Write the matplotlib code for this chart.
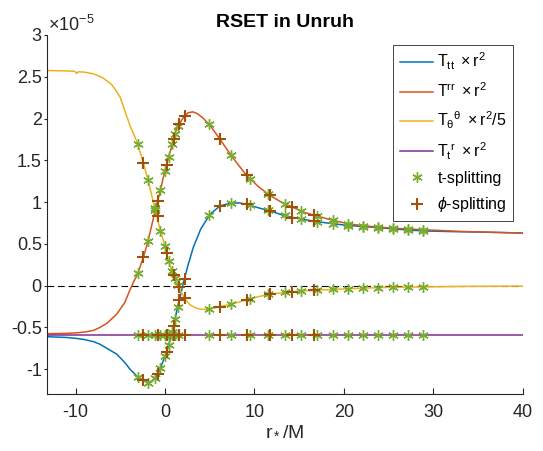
import numpy as np
import matplotlib.pyplot as plt
from matplotlib.ticker import FormatStrFormatter

plt.rcParams['font.family'] = ['Liberation Sans', 'DejaVu Sans']
plt.rcParams['mathtext.fontset'] = 'custom'
plt.rcParams['mathtext.rm'] = 'Liberation Sans'
plt.rcParams['mathtext.it'] = 'Liberation Sans:italic'
plt.rcParams['mathtext.bf'] = 'Liberation Sans:bold'
plt.rcParams['axes.unicode_minus'] = False

# Curves (values in units of 1e-5)
x_tt = [-13.24, -11, -10, -9, -8, -7.3, -6.5, -5.4, -4.5, -3.92, -3.17, -2.43, -1.94,
        -1.5, -1.2, -0.94, -0.57, 0.07, 0.36, 0.93, 1.11, 1.3, 1.56, 1.78, 2.04, 2.5,
        3.16, 4.0, 5.03, 6.15, 7.45, 8.3, 9.1, 10.5, 11.74, 13, 14.35, 16.77, 18.5,
        20.5, 23.85, 26, 28.9, 33, 36, 40]
T_tt = [-0.61, -0.62, -0.63, -0.645, -0.67, -0.70, -0.75, -0.82, -0.92, -1.0, -1.08,
        -1.13, -1.16, -1.145, -1.11, -1.08, -1.0, -0.82, -0.73, -0.50, -0.41, -0.30,
        -0.19, -0.09, 0.03, 0.22, 0.46, 0.68, 0.855, 0.955, 0.99, 0.99, 0.975, 0.93,
        0.895, 0.85, 0.815, 0.77, 0.745, 0.72, 0.695, 0.675, 0.655, 0.645, 0.64, 0.63]

x_rr = [-13.24, -11, -10, -9, -8, -7.3, -6.5, -5.4, -4.5, -3.92, -3.5, -3.06, -2.43,
        -1.94, -1.5, -0.87, -0.57, -0.08, 0.19, 0.37, 0.93, 1.11, 1.3, 1.56, 2.15, 2.6,
        3.1, 3.6, 4.2, 5.03, 6.15, 7.45, 9.1, 10.5, 11.74, 13, 14.35, 15.5, 16.77, 18.5,
        20.5, 22, 23.85, 26, 28.9, 33, 36, 40]
T_rr = [-0.575, -0.57, -0.565, -0.555, -0.535, -0.50, -0.45, -0.34, -0.20, -0.05,
        0.05, 0.14, 0.34, 0.52, 0.72, 1.0, 1.12, 1.35, 1.45, 1.53, 1.74, 1.82, 1.88,
        1.93, 2.03, 2.07, 2.08, 2.06, 2.01, 1.92, 1.75, 1.55, 1.32, 1.18, 1.08, 1.0,
        0.935, 0.88, 0.84, 0.79, 0.74, 0.72, 0.70, 0.685, 0.67, 0.65, 0.64, 0.63]

x_th = [-13.24, -11, -10.1, -9.9, -9.7, -9, -8, -7, -6, -5.4, -5, -4.5, -3.9, -3.1,
        -2.43, -1.94, -1.2, -0.57, 0, 0.36, 0.7, 1.1, 1.5, 1.86, 2.3, 2.8, 3.5, 4.3,
        5.0, 6.0, 7.45, 9.1, 10.5, 11.74, 13.6, 15.3, 16.8, 18.8, 22.1, 25, 28.9, 34, 40]
T_th = [2.575, 2.57, 2.565, 2.54, 2.56, 2.555, 2.535, 2.49, 2.41, 2.32, 2.25, 2.09,
        1.91, 1.71, 1.47, 1.28, 0.95, 0.68, 0.47, 0.30, 0.20, 0.10, 0.0, -0.09, -0.17,
        -0.23, -0.27, -0.285, -0.28, -0.255, -0.22, -0.17, -0.13, -0.10, -0.08, -0.065,
        -0.055, -0.045, -0.03, -0.02, -0.015, -0.008, -0.005]

x_tr = [-13.24, 40]
T_tr = [-0.59, -0.59]

# t-splitting points
x_t = [-3.03, -1.91, -1.14, -0.53, -0.03, 0.40, 0.79, 1.14, 1.46, 4.95, 7.39, 9.52,
       11.51, 13.39, 15.22, 17.0, 18.74, 20.46, 22.16, 23.84, 25.50, 27.15, 28.8]
t_tt = [-1.09, -1.16, -1.10, -0.99, -0.84, -0.71, -0.55, -0.40, -0.25, 0.85, 0.99,
        0.965, 0.90, 0.84, 0.80, 0.765, 0.74, 0.72, 0.705, 0.695, 0.68, 0.665, 0.655]
t_rr = [0.15, 0.53, 0.90, 1.14, 1.37, 1.54, 1.69, 1.82, 1.91, 1.93, 1.56, 1.28, 1.10,
        0.98, 0.89, 0.835, 0.785, 0.74, 0.72, 0.70, 0.69, 0.68, 0.67]
t_th = [1.69, 1.27, 0.93, 0.66, 0.47, 0.29, 0.18, 0.09, 0.01, -0.28, -0.22, -0.16,
        -0.105, -0.08, -0.065, -0.055, -0.045, -0.035, -0.03, -0.025, -0.02, -0.018,
        -0.015]
t_tr = [-0.59] * len(x_t)

# phi-splitting points
x_p = [-2.42, -0.82, 0.19, 0.97, 1.61, 2.18, 6.14, 9.11, 11.76, 14.25, 16.65]
p_tt = [-1.13, -1.06, -0.79, -0.48, -0.17, 0.08, 0.955, 0.975, 0.895, 0.815, 0.77]
p_rr = [0.34, 1.01, 1.45, 1.76, 1.94, 2.03, 1.75, 1.32, 1.08, 0.94, 0.845]
p_th = [1.47, 0.83, 0.39, 0.13, -0.02, -0.15, -0.25, -0.17, -0.10, -0.075, -0.055]
p_tr = [-0.59] * len(x_p)

fig = plt.figure(figsize=(5.43, 4.51), dpi=100)
ax = fig.add_axes([0.086, 0.1257, 0.8766, 0.7967])

ax.plot([-13.24, 40], [0, 0], color='k', lw=0.8, ls=(0, (6, 3.5)))
ax.plot(x_tt, T_tt, color='#0072BD', lw=1.1, label=r'$\mathrm{T_{tt}}\ \times\mathrm{r^2}$')
ax.plot(x_rr, T_rr, color='#D95319', lw=1.1, label=r'$\mathrm{T^{rr}}\ \times\mathrm{r^2}$')
ax.plot(x_th, T_th, color='#EDB120', lw=1.1,
        label=r'$\mathrm{T_{\theta}{}^{\theta}}\ \times\mathrm{r^2/5}$')
ax.plot(x_tr, T_tr, color='#7E2F8E', lw=1.1, label=r'$\mathrm{T_t{}^{r}}\ \times\mathrm{r^2}$')

for i, yy in enumerate([t_tt, t_rr, t_th, t_tr]):
    ax.plot(x_t, yy, ls='none', marker=(6, 2, 0), ms=7.5, mew=1.0, color='#77AC30',
            label='t-splitting' if i == 0 else None)
for i, yy in enumerate([p_tt, p_rr, p_th, p_tr]):
    ax.plot(x_p, yy, ls='none', marker='+', ms=8, mew=1.5, color='#A0520A',
            label=r'$\phi$-splitting' if i == 0 else None)

ax.set_xlim(-13.24, 40)
ax.set_ylim(-1.3, 3)
ax.set_xticks([-10, 0, 10, 20, 30, 40])
ax.set_yticks([-1, -0.5, 0, 0.5, 1, 1.5, 2, 2.5, 3])
ax.yaxis.set_major_formatter(FormatStrFormatter('%g'))
for s in ['top', 'right']:
    ax.spines[s].set_visible(False)
for s in ['left', 'bottom']:
    ax.spines[s].set_color('#262626')
    ax.spines[s].set_linewidth(0.8)
ax.tick_params(axis='x', direction='in', length=4, width=0.8, colors='#262626',
               labelsize=13, pad=7)
ax.tick_params(axis='y', direction='out', length=2.5, width=0.8, colors='#262626',
               labelsize=13, pad=1)

ax.set_xlabel(r'r$_*$/M', fontsize=14, color='#262626', labelpad=1)
ax.set_title('RSET in Unruh', fontsize=14, fontweight='bold', pad=6)
ax.text(0.003, 1.0, r'$\times\mathrm{10^{-5}}$', transform=ax.transAxes,
        ha='left', va='bottom', fontsize=13, color='#262626')

leg = ax.legend(loc='upper right', bbox_to_anchor=(0.98, 0.973), borderaxespad=0,
                fontsize=11.5, fancybox=False, framealpha=1, edgecolor='#262626',
                handlelength=2.1, handletextpad=0.25, labelspacing=0.58, borderpad=0.4)
leg.get_frame().set_linewidth(0.6)

fig.savefig('out.png', dpi=100)
